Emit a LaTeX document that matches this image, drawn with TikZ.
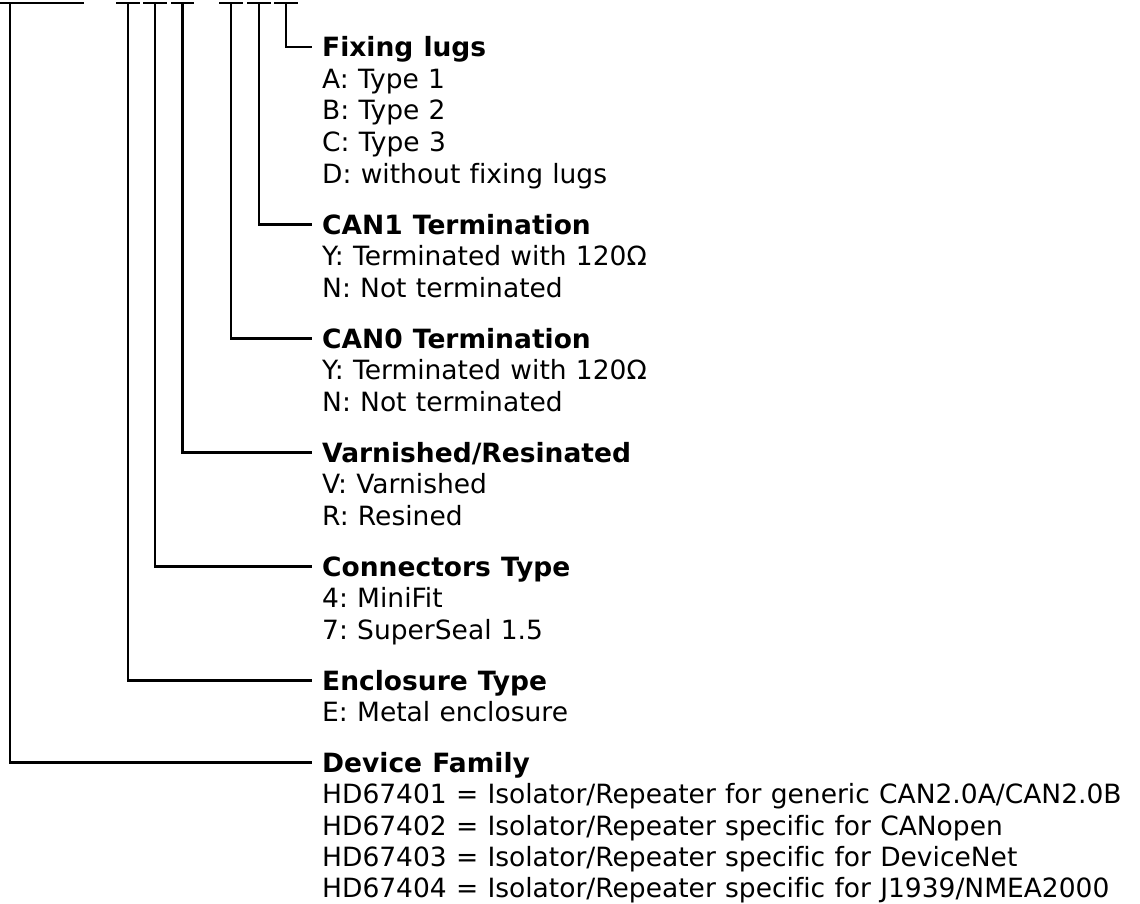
\documentclass[tikz,border=0pt]{standalone}
\usepackage{fontspec}
\setmainfont[Ligatures=NoCommon,WordSpace=1.1]{DejaVu Sans}
\frenchspacing
\begin{document}
\begin{tikzpicture}[x=1pt,y=-1pt,
  bar/.style={line width=2.4pt,line cap=rect},
  wire/.style={line width=2.4pt},
  ttl/.style={font=\fontsize{26.5pt}{31pt}\selectfont\bfseries, anchor=base west,
    inner xsep=10pt, inner ysep=0pt, text height=19.3pt, text depth=0pt},
  itm/.style={font=\fontsize{26.5pt}{31pt}\selectfont, anchor=base west, inner sep=0pt}]
\useasboundingbox (0,0) rectangle (1140,904);

% top bars (code character positions)
\draw[bar] (0,3.3) -- (83,3.3);
\draw[bar] (117.5,3.3) -- (138.5,3.3);
\draw[bar] (144.5,3.3) -- (165.5,3.3);
\draw[bar] (172,3.3) -- (193,3.3);
\draw[bar] (220.5,3.3) -- (241.5,3.3);
\draw[bar] (248.5,3.3) -- (269.5,3.3);
\draw[bar] (275.5,3.3) -- (296.5,3.3);

\coordinate (tD) at (9.7,3.3);
\coordinate (tE) at (128,3.3);
\coordinate (tCo) at (155,3.3);
\coordinate (tV) at (182.5,3.3);
\coordinate (tC0) at (231,3.3);
\coordinate (tC1) at (259,3.3);
\coordinate (tF) at (286,3.3);

% Fixing lugs
\node[ttl] (fix) at (312,56.7) {Fixing lugs};
\node[itm] (fixA) at (322,88.4) {A: Type 1};
\node[itm] (fixB) at (322,120) {B: Type 2};
\node[itm] (fixC) at (322,151.7) {C: Type 3};
\node[itm] (fixD) at (322,183.4) {D: without fixing lugs};

% CAN1
\node[ttl] (can1) at (312,234) {CAN1 Termination};
\node[itm] (can1Y) at (322,265.7) {Y: Terminated with 120Ω};
\node[itm] (can1N) at (322,297.3) {N: Not terminated};

% CAN0
\node[ttl] (can0) at (312,348) {CAN0 Termination};
\node[itm] (can0Y) at (322,379.7) {Y: Terminated with 120Ω};
\node[itm] (can0N) at (322,411.3) {N: Not terminated};

% Varnished
\node[ttl] (var) at (312,462) {Varnished/Resinated};
\node[itm] (varV) at (322,493.7) {V: Varnished};
\node[itm] (varR) at (322,525.3) {R: Resined};

% Connectors
\node[ttl] (con) at (312,576) {Connectors Type};
\node[itm] (con4) at (322,607.7) {4: MiniFit};
\node[itm] (con7) at (322,639.3) {7: SuperSeal 1.5};

% Enclosure
\node[ttl] (enc) at (312,690) {Enclosure Type};
\node[itm] (encE) at (322,721.7) {E: Metal enclosure};

% Device family
\node[ttl] (dev) at (312,772.3) {Device Family};
\node[itm] (dev1) at (322,803.7) {HD67401 = Isolator/Repeater for generic CAN2.0A/CAN2.0B};
\node[itm] (dev2) at (322,835.1) {HD67402 = Isolator/Repeater specific for CANopen};
\node[itm] (dev3) at (322,866.5) {HD67403 = Isolator/Repeater specific for DeviceNet};
\node[itm] (dev4) at (322,897.9) {HD67404 = Isolator/Repeater specific for J1939/NMEA2000};

% connectors
\draw[wire] (tF) |- (fix.west);
\draw[wire] (tC1) |- (can1.west);
\draw[wire] (tC0) |- (can0.west);
\draw[wire] (tV) |- (var.west);
\draw[wire] (tCo) |- (con.west);
\draw[wire] (tE) |- (enc.west);
\draw[wire] (tD) |- (dev.west);
\end{tikzpicture}
\end{document}
